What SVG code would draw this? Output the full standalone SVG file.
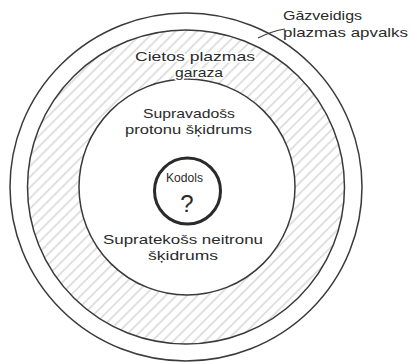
<svg xmlns="http://www.w3.org/2000/svg" width="413" height="362" viewBox="0 0 413 362">
<defs>
<pattern id="hatch" patternUnits="userSpaceOnUse" width="7.5" height="7.5" patternTransform="rotate(-45)">
<line x1="0" y1="3.75" x2="7.5" y2="3.75" stroke="#b4b4b4" stroke-width="0.8"/>
</pattern>
<style>
.ring{fill:none;stroke:#3a3a3a;stroke-width:1.5}
.lbl{font-family:"Liberation Sans",Arial,sans-serif;font-size:13px;fill:#2a2a2a}
.halo{stroke:#ffffff;stroke-width:3;paint-order:stroke;stroke-linejoin:round}
.mid{text-anchor:middle}
</style>
</defs>
<rect width="413" height="362" fill="#ffffff"/>
<g id="outer-shell">
<ellipse class="ring" cx="186" cy="187" rx="176" ry="174"/>
</g>
<g id="solid-crust">
<path d="M344.5,187 A158.5,157 0 1 0 27.5,187 A158.5,157 0 1 0 344.5,187 Z M295,187 A108,108 0 1 1 79,187 A108,108 0 1 1 295,187 Z" fill="url(#hatch)" fill-rule="evenodd"/>
<ellipse class="ring" cx="186" cy="187" rx="158.5" ry="157"/>
</g>
<g id="proton-fluid">
<circle class="ring" cx="187" cy="187" r="108"/>
</g>
<g id="core">
<circle cx="187.5" cy="191" r="33" fill="#ffffff" stroke="#2a2a2a" stroke-width="3"/>
</g>
<g id="connectors">
<path d="M285,29 Q272,31 258,38" fill="none" stroke="#3a3a3a" stroke-width="1.2"/>
</g>
<g id="labels">
<text class="lbl" x="283" y="20" textLength="79" lengthAdjust="spacingAndGlyphs">Gāzveidigs</text>
<text class="lbl" x="283" y="37" textLength="125" lengthAdjust="spacingAndGlyphs">plazmas apvalks</text>
<text class="lbl halo" x="135" y="61" textLength="120" lengthAdjust="spacingAndGlyphs">Cietos plazmas</text>
<text class="lbl halo" x="175" y="77" textLength="48" lengthAdjust="spacingAndGlyphs">garaza</text>
<text class="lbl" x="143" y="118" textLength="92" lengthAdjust="spacingAndGlyphs">Supravadošs</text>
<text class="lbl" x="125" y="134" textLength="127" lengthAdjust="spacingAndGlyphs">protonu šķidrums</text>
<text class="lbl" x="166" y="182" textLength="37" lengthAdjust="spacingAndGlyphs" style="font-size:12px">Kodols</text>
<text class="lbl mid" x="187" y="212" style="font-size:24px">?</text>
<text class="lbl" x="103" y="244" textLength="160" lengthAdjust="spacingAndGlyphs">Supratekošs neitronu</text>
<text class="lbl" x="148" y="260" textLength="70" lengthAdjust="spacingAndGlyphs">šķidrums</text>
</g>
</svg>
